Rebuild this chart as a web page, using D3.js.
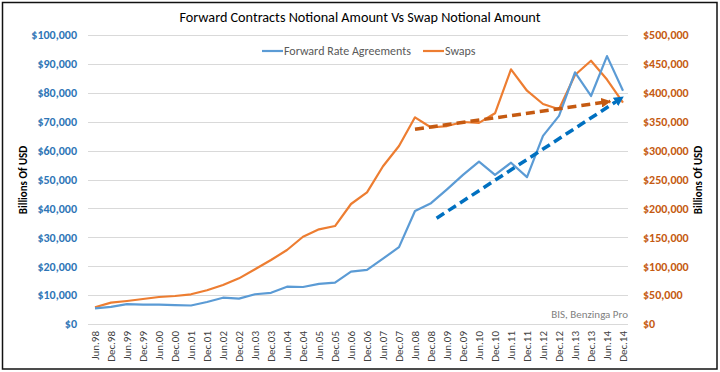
<!DOCTYPE html>
<html>
<head>
<meta charset="utf-8">
<script src="https://cdn.jsdelivr.net/npm/d3@7"></script>
<style>
body{margin:0;background:#fff;}
svg{display:block;font-family:Carlito,Lato,"Liberation Sans",sans-serif;}
</style>
</head>
<body>
<div id="chart"></div>
<script>
const categories=["Jun.98","Dec.98","Jun.99","Dec.99","Jun.00","Dec.00","Jun.01","Dec.01","Jun.02","Dec.02",
    "Jun.03","Dec.03","Jun.04","Dec.04","Jun.05","Dec.05","Jun.06","Dec.06","Jun.07","Dec.07",
    "Jun.08","Dec.08","Jun.09","Dec.09","Jun.10","Dec.10","Jun.11","Dec.11","Jun.12","Dec.12",
    "Jun.13","Dec.13","Jun.14","Dec.14"];
// Forward Rate Agreements, billions (left axis)
const fraValues=[5400,5900,6900,6700,6700,6500,6400,7600,9100,8800,
    10300,10800,12900,12800,13900,14300,18100,18700,22600,26600,
    39100,41800,46600,51600,56200,51600,55800,50800,65100,72000,
    87100,78900,92700,80700];
// Swaps, billions (right axis)
const swapValues=[28900,36900,39800,43300,46700,48400,51400,58300,67500,79000,
    94600,110700,128000,151000,163800,169500,207600,227800,273000,308000,
    357600,340000,342500,349500,348000,364500,440600,403600,380600,371400,
    430800,455500,423000,383000];
const leftTicks=[0,10000,20000,30000,40000,50000,60000,70000,80000,90000,100000];
const rightTicks=[0,50000,100000,150000,200000,250000,300000,350000,400000,450000,500000];
// trend arrows: [category, offset in bands, value]
const swapTrend=[["Jun.08",0,337000],["Jun.14",0.2,385000]];
const fraTrend=[["Dec.08",0.35,36600],["Dec.14",0,78500]];

const width=720,height=372;
const blue="#5b9bd5",orange="#ed7d31";
const blueDark="#2e75b6",orangeDark="#c55a11";

const svg=d3.select("#chart").append("svg")
    .attr("width",width)
    .attr("height",height);

svg.append("rect")
    .attr("x",2.5).attr("y",2.5)
    .attr("width",width-5.5).attr("height",height-5.5)
    .attr("fill","#fff")
    .attr("stroke","#111")
    .attr("stroke-width",1.5);

const x=d3.scaleBand().domain(categories).range([87,631]);
const yL=d3.scaleLinear().domain([0,100000]).range([324,35]);
const yR=d3.scaleLinear().domain([0,500000]).range([324,35]);
const cx=d=>x(d)+x.bandwidth()/2;

// gridlines
svg.append("g")
    .selectAll("line")
    .data(leftTicks)
    .join("line")
    .attr("x1",88).attr("x2",628)
    .attr("y1",d=>Math.round(yL(d))+0.5)
    .attr("y2",d=>Math.round(yL(d))+0.5)
    .attr("stroke","#d9d9d9")
    .attr("stroke-width",1);

// left axis
const axL=svg.append("g")
    .attr("transform","translate(77,0)")
    .call(d3.axisLeft(yL).tickValues(leftTicks).tickFormat(d3.format("$,")).tickSize(0).tickPadding(0));
axL.select(".domain").remove();
axL.selectAll("text")
    .attr("fill",blueDark)
    .attr("font-weight","bold")
    .attr("font-size",12)
    .attr("font-family","Carlito,Lato,sans-serif");

// right axis
const axR=svg.append("g")
    .attr("transform","translate(643,0)")
    .call(d3.axisRight(yR).tickValues(rightTicks).tickFormat(d3.format("$,")).tickSize(0).tickPadding(0));
axR.select(".domain").remove();
axR.selectAll("text")
    .attr("fill",orangeDark)
    .attr("font-weight","bold")
    .attr("font-size",12)
    .attr("font-family","Carlito,Lato,sans-serif");

// x axis labels
svg.append("g")
    .selectAll("text")
    .data(categories)
    .join("text")
    .attr("transform",d=>`translate(${cx(d)+4},331) rotate(-90)`)
    .attr("text-anchor","end")
    .attr("font-size",11)
    .attr("fill","#404040")
    .text(d=>d);

// axis titles
svg.append("text")
    .attr("transform","translate(27,180) rotate(-90)")
    .attr("text-anchor","middle")
    .attr("font-size",11)
    .attr("font-weight","bold")
    .attr("fill","#000")
    .text("Billions Of USD");
svg.append("text")
    .attr("transform","translate(702,180) rotate(-90)")
    .attr("text-anchor","middle")
    .attr("font-size",11)
    .attr("font-weight","bold")
    .attr("fill","#000")
    .text("Billions Of USD");

// title
svg.append("text")
    .attr("x",360).attr("y",22)
    .attr("text-anchor","middle")
    .attr("font-size",14.2)
    .attr("fill","#000")
    .text("Forward Contracts Notional Amount Vs Swap Notional  Amount");

// series lines
const lineL=d3.line().x((d,i)=>cx(categories[i])).y(d=>yL(d));
const lineR=d3.line().x((d,i)=>cx(categories[i])).y(d=>yR(d));

svg.append("path")
    .datum(swapValues)
    .attr("fill","none")
    .attr("stroke",orange)
    .attr("stroke-width",2.2)
    .attr("stroke-linejoin","round")
    .attr("d",lineR);

svg.append("path")
    .datum(fraValues)
    .attr("fill","none")
    .attr("stroke",blue)
    .attr("stroke-width",2.2)
    .attr("stroke-linejoin","round")
    .attr("d",lineL);

// trend arrows
const defs=svg.append("defs");
defs.selectAll("marker")
    .data([["arrO",orangeDark],["arrB","#0070c0"]])
    .join("marker")
    .attr("id",d=>d[0])
    .attr("viewBox","0 -5 10 10")
    .attr("refX",9)
    .attr("refY",0)
    .attr("markerWidth",2.8)
    .attr("markerHeight",2.8)
    .attr("orient","auto")
    .append("path")
    .attr("d","M0,-5L10,0L0,5Z")
    .attr("fill",d=>d[1]);

svg.append("line")
    .attr("x1",cx(swapTrend[0][0])+swapTrend[0][1]*x.bandwidth())
    .attr("y1",yR(swapTrend[0][2]))
    .attr("x2",cx(swapTrend[1][0])+swapTrend[1][1]*x.bandwidth())
    .attr("y2",yR(swapTrend[1][2]))
    .attr("stroke",orangeDark)
    .attr("stroke-width",3.5)
    .attr("stroke-dasharray","9,5")
    .attr("marker-end","url(#arrO)");

svg.append("line")
    .attr("x1",cx(fraTrend[0][0])+fraTrend[0][1]*x.bandwidth())
    .attr("y1",yL(fraTrend[0][2]))
    .attr("x2",cx(fraTrend[1][0])+fraTrend[1][1]*x.bandwidth())
    .attr("y2",yL(fraTrend[1][2]))
    .attr("stroke","#0070c0")
    .attr("stroke-width",3.5)
    .attr("stroke-dasharray","9,5")
    .attr("marker-end","url(#arrB)");

// legend
const legend=[["Forward Rate Agreements",blue,262],["Swaps",orange,423]];
const lg=svg.append("g").selectAll("g").data(legend).join("g")
    .attr("transform",d=>`translate(${d[2]},51)`);
lg.append("line")
    .attr("x1",0).attr("x2",21)
    .attr("stroke",d=>d[1])
    .attr("stroke-width",2.2);
lg.append("text")
    .attr("x",22).attr("y",4)
    .attr("font-size",12)
    .attr("fill","#595959")
    .text(d=>d[0]);

// source
svg.append("text")
    .attr("x",628).attr("y",318)
    .attr("text-anchor","end")
    .attr("font-size",11)
    .attr("fill","#7f7f7f")
    .text("BIS, Benzinga Pro");
</script>
</body>
</html>
